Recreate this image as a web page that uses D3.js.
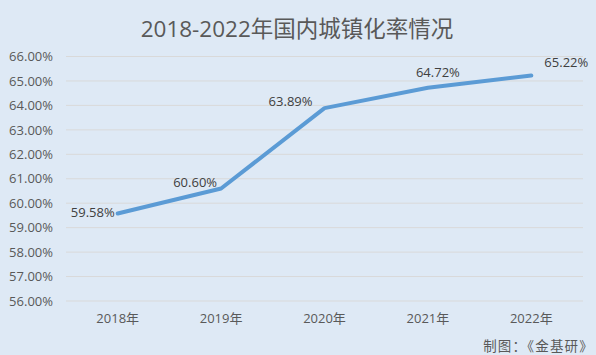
<!DOCTYPE html>
<html><head><meta charset="utf-8">
<script src="https://cdn.jsdelivr.net/npm/d3@7"></script>
<style>
html,body{margin:0;padding:0;background:#dee9f5;}
svg{display:block;}
text{font-family:"Open Sans","Noto Sans CJK SC",sans-serif;fill:#595959;}
</style></head>
<body>
<svg id="chart" width="596" height="355"></svg>
<script>
const years = ["2018年","2019年","2020年","2021年","2022年"];
const rates = [59.58, 60.60, 63.89, 64.72, 65.22];
const yTicks = [56,57,58,59,60,61,62,63,64,65,66];
const title = "2018-2022年国内城镇化率情况";
const source = "制图：《金基研》";

const W = 596, H = 355;
const svg = d3.select("#chart");
svg.append("rect").attr("width",W).attr("height",H).attr("fill","#dee9f5");

const x = d3.scaleBand().domain(years).range([66,583]);
const y = d3.scaleLinear().domain([56,66]).range([301,56.5]);

// gridlines
svg.append("g").selectAll("line").data(yTicks).join("line")
  .attr("x1",66).attr("x2",583)
  .attr("y1",d=>y(d)).attr("y2",d=>y(d))
  .attr("stroke","#d9d9d9").attr("stroke-width",1);

// y axis
const yAxis = d3.axisLeft(y).tickValues(yTicks).tickSize(0).tickPadding(0)
  .tickFormat(d=>d3.format(".2f")(d)+"%");
const gy = svg.append("g").attr("transform","translate(53,0)").call(yAxis);
gy.select(".domain").remove();
gy.selectAll("text").attr("font-size",13).attr("fill","#595959")
  .style("font-family",'"Open Sans","Noto Sans CJK SC",sans-serif');

// x axis
const xAxis = d3.axisBottom(x).tickSize(0).tickPadding(0);
const gx = svg.append("g").attr("transform","translate(0,314)").call(xAxis);
gx.select(".domain").remove();
gx.selectAll("text").attr("font-size",13).attr("fill","#595959")
  .style("font-family",'"Open Sans","Noto Sans CJK SC",sans-serif');

// line
const cx = d => x(d) + x.bandwidth()/2;
const line = d3.line().x((d,i)=>cx(years[i])).y(d=>y(d));
svg.append("path").datum(rates).attr("d",line)
  .attr("fill","none").attr("stroke","#5b9bd5").attr("stroke-width",4)
  .attr("stroke-linejoin","round").attr("stroke-linecap","round");

// data labels
const labelPlace = [
  {dx:-3, dy:4, anchor:"end"},
  {dx:-4, dy:-2, anchor:"end"},
  {dx:-12, dy:-2, anchor:"end"},
  {dx:10, dy:-11, anchor:"middle"},
  {dx:35, dy:-9, anchor:"middle"}
];
svg.append("g").selectAll("text").data(rates).join("text")
  .attr("x",(d,i)=>cx(years[i])+labelPlace[i].dx)
  .attr("y",(d,i)=>y(d)+labelPlace[i].dy)
  .attr("text-anchor",(d,i)=>labelPlace[i].anchor)
  .attr("font-size",13).attr("fill","#404040").style("fill","#404040")
  .text(d=>d3.format(".2f")(d)+"%");

// title
svg.append("text").attr("x",297).attr("y",37).attr("text-anchor","middle")
  .attr("font-size",22.5).text(title);

// source
svg.append("text").attr("x",594).attr("y",351).attr("text-anchor","end")
  .attr("font-size",13.5).attr("letter-spacing",1.2)
  .style("font-family",'"Noto Sans CJK SC",sans-serif').text(source);
</script>
</body></html>
